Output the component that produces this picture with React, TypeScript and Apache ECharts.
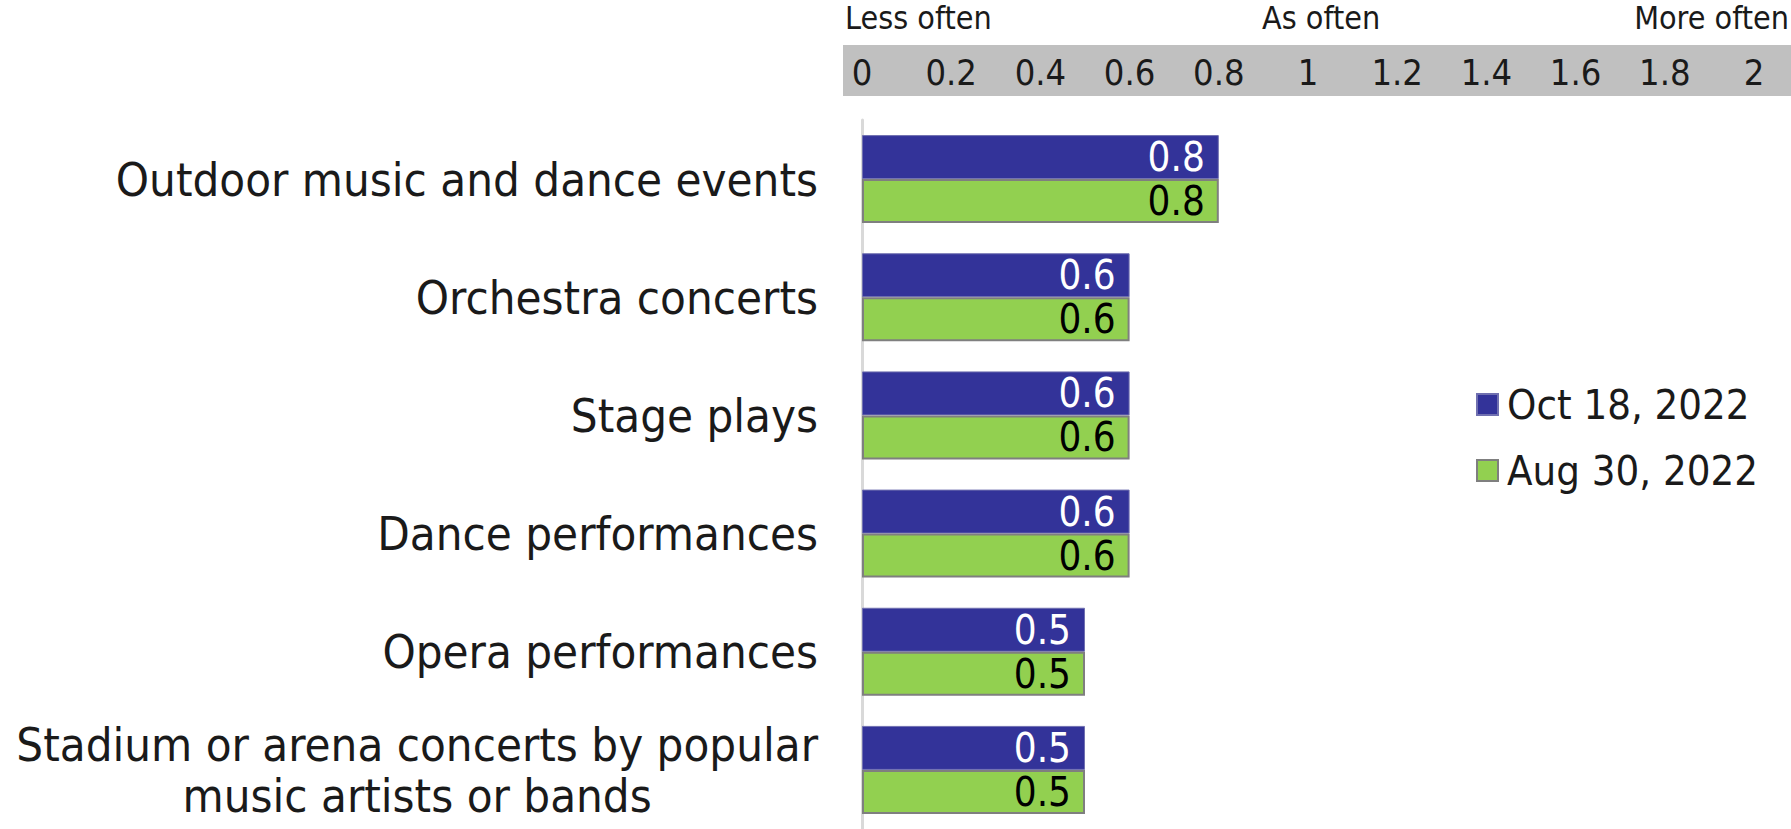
import React, { useEffect, useRef } from "react";
import * as echarts from "echarts";

const categories = [
  "Outdoor music and dance events",
  "Orchestra concerts",
  "Stage plays",
  "Dance performances",
  "Opera performances",
  "Stadium or arena concerts by popular\nmusic artists or bands",
];
const oct18 = [0.8, 0.6, 0.6, 0.6, 0.5, 0.5];
const aug30 = [0.8, 0.6, 0.6, 0.6, 0.5, 0.5];
const seriesNames = ["Oct 18, 2022", "Aug 30, 2022"];
const scaleNotes = ["Less often", "As often", "More often"];

const FONT = "'DejaVu Sans Condensed', 'DejaVu Sans', sans-serif";
const INK = "#1a1a1a";

export default function App() {
  const ref = useRef<HTMLDivElement>(null);

  useEffect(() => {
    if (!ref.current) return;
    const chart = echarts.init(ref.current, undefined, { renderer: "svg" });
    chart.setOption({
      animation: false,
      textStyle: { fontFamily: FONT },
      grid: { left: 862, right: 37, top: 120, bottom: -1, containLabel: false },
      graphic: [
        {
          type: "rect",
          z: -1,
          shape: { x: 843, y: 45, width: 948, height: 51 },
          style: { fill: "#c0c0c0" },
        },
        {
          type: "text",
          left: 845,
          top: 2,
          style: { text: scaleNotes[0], fontSize: 32, fontFamily: FONT, fill: INK },
        },
        {
          type: "text",
          left: 1262,
          top: 2,
          style: { text: scaleNotes[1], fontSize: 32, fontFamily: FONT, fill: INK },
        },
        {
          type: "text",
          right: 2,
          top: 2,
          style: { text: scaleNotes[2], fontSize: 32, fontFamily: FONT, fill: INK },
        },
      ],
      legend: {
        orient: "vertical",
        left: 1471,
        top: 377,
        itemWidth: 21,
        itemHeight: 21,
        itemGap: 21,
        icon: "rect",
        data: seriesNames,
        textStyle: {
          fontSize: 41.5,
          fontFamily: FONT,
          color: INK,
          lineHeight: 45,
          padding: [0, 0, 0, 4],
        },
      },
      xAxis: {
        type: "value",
        position: "top",
        min: 0,
        max: 2,
        interval: 0.2,
        splitLine: { show: false },
        axisLine: { show: false },
        axisTick: { show: false },
        axisLabel: {
          fontSize: 36,
          fontFamily: FONT,
          color: INK,
          margin: 30,
          formatter: (v: number) => String(Math.round(v * 10) / 10),
        },
      },
      yAxis: {
        type: "category",
        inverse: true,
        data: categories,
        axisLine: { show: true, lineStyle: { color: "#d9d9d9", width: 3 } },
        axisTick: { show: false },
        axisLabel: {
          fontSize: 47,
          fontFamily: FONT,
          color: INK,
          margin: 44,
          lineHeight: 51,
          align: "right",
          // each line is centred within the right-aligned label block
          formatter: (v: string) =>
            v
              .split("\n")
              .map((line) => `{c|${line}}`)
              .join("\n"),
          rich: {
            c: {
              align: "center",
              fontSize: 47,
              fontFamily: FONT,
              color: INK,
              lineHeight: 51,
            },
          },
        },
      },
      series: [
        {
          name: seriesNames[0],
          type: "bar",
          data: oct18,
          barWidth: 44,
          barGap: "0%",
          itemStyle: { color: "#333399", borderColor: "#7070b0", borderWidth: 1 },
          label: {
            show: true,
            position: "insideRight",
            distance: 14,
            fontSize: 40,
            fontFamily: FONT,
            color: "#ffffff",
            formatter: (p: any) => p.value.toFixed(1),
          },
        },
        {
          name: seriesNames[1],
          type: "bar",
          data: aug30,
          barWidth: 44,
          itemStyle: { color: "#92d050", borderColor: "#7f7f7f", borderWidth: 2 },
          label: {
            show: true,
            position: "insideRight",
            distance: 14,
            fontSize: 40,
            fontFamily: FONT,
            color: "#000000",
            formatter: (p: any) => p.value.toFixed(1),
          },
        },
      ],
    });
    return () => chart.dispose();
  }, []);

  return (
    <div
      ref={ref}
      style={{ position: "absolute", left: 0, top: 0, width: 1791, height: 829, background: "#ffffff" }}
    />
  );
}
